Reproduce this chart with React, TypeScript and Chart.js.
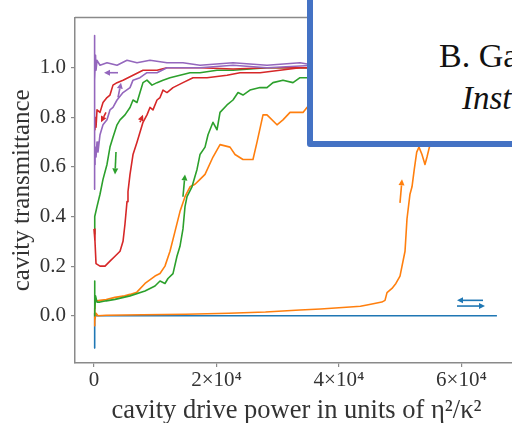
import React, { useEffect, useRef } from "react";
import { Chart, registerables } from "chart.js";
Chart.register(...registerables);

const xTicks = [0, 20000, 40000, 60000];
const xTickLabels = ["0", "2×10⁴", "4×10⁴", "6×10⁴"];
const yTicks = [0, 0.2, 0.4, 0.6, 0.8, 1.0];
const yTickLabels = ["0.0", "0.2", "0.4", "0.6", "0.8", "1.0"];

const xTitle = "cavity drive power in units of η²/κ²";
const yTitle = "cavity transmittance";

const blueSweep = [[0, -0.13], [60, -0.03], [160, 0.01], [400, 0.0], [20000, 0.0], [65800, 0.0]];

const orangeUp = [
  [0, -0.04], [80, 0.03], [160, -0.02], [330, 0.01], [650, 0.0], [2000, 0.002], [8000, 0.004],
  [15000, 0.006], [22000, 0.01], [28000, 0.015], [33640, 0.023], [37000, 0.027], [41800, 0.035],
  [43500, 0.038], [44580, 0.043], [46000, 0.05], [47000, 0.055], [47520, 0.062], [47850, 0.093],
  [48660, 0.11], [49300, 0.13], [49970, 0.16], [50790, 0.26], [51110, 0.39], [51600, 0.49],
  [51930, 0.52], [52300, 0.59], [52700, 0.66], [53070, 0.68], [53560, 0.65], [54050, 0.61],
  [54380, 0.64], [54870, 0.69], [56500, 0.76],
];
const orangeDown = [
  [0, 0.03], [160, 0.066], [490, 0.06], [980, 0.062], [2000, 0.065], [3430, 0.074], [5000, 0.08],
  [5880, 0.086], [7000, 0.095], [8330, 0.13], [9960, 0.16], [10780, 0.17], [11590, 0.2], [12410, 0.26],
  [13230, 0.34], [14040, 0.42], [14860, 0.48], [15680, 0.52], [16490, 0.53], [17310, 0.55],
  [18130, 0.57], [19430, 0.64], [20580, 0.69], [22210, 0.68], [23030, 0.65], [24330, 0.63],
  [25960, 0.63], [26620, 0.7], [27600, 0.81], [28250, 0.81], [29880, 0.77], [30860, 0.79],
  [32010, 0.82], [33150, 0.82], [34130, 0.82], [34780, 0.84], [36000, 0.86],
];

const greenUp = [
  [0, 0.0], [80, 0.14], [160, 0.02], [250, 0.08], [490, 0.055], [980, 0.055], [2000, 0.06],
  [3430, 0.066], [5880, 0.08], [8330, 0.1], [9960, 0.12], [10780, 0.14], [11590, 0.13], [12080, 0.15],
  [12900, 0.17], [13550, 0.24], [14040, 0.28], [14530, 0.35], [14860, 0.44], [15190, 0.48],
  [16000, 0.52], [16820, 0.59], [17310, 0.65], [18130, 0.68], [18620, 0.73], [19430, 0.78],
  [20090, 0.75], [20580, 0.82], [21720, 0.85], [22700, 0.87], [23520, 0.9], [24330, 0.89],
  [25470, 0.91], [27110, 0.92], [28250, 0.92], [29230, 0.94], [30860, 0.95], [32500, 0.94],
  [33640, 0.96], [34780, 0.96], [36000, 0.97],
];
const greenDown = [
  [0, 0.33], [80, 0.37], [160, 0.4], [490, 0.44], [980, 0.49], [1470, 0.55], [2120, 0.61],
  [2610, 0.68], [3100, 0.72], [3760, 0.77], [4250, 0.79], [5060, 0.81], [5880, 0.84], [6370, 0.87],
  [7020, 0.86], [7510, 0.9], [8000, 0.94], [8650, 0.95], [9470, 0.93], [10290, 0.94], [11270, 0.95],
  [12410, 0.96], [14040, 0.97], [15680, 0.98], [17310, 0.98], [20090, 0.99], [22700, 0.99],
  [28250, 1.0], [33640, 1.0], [36000, 1.0],
];

const redUp = [
  [0, 0.35], [160, 0.3], [330, 0.21], [980, 0.2], [1800, 0.2], [2610, 0.22], [3430, 0.24],
  [4250, 0.26], [4740, 0.3], [5060, 0.37], [5390, 0.46], [5550, 0.5], [5880, 0.57], [6370, 0.65],
  [7020, 0.7], [7510, 0.74], [8000, 0.78], [8650, 0.81], [9140, 0.84], [9630, 0.83], [10290, 0.87],
  [10780, 0.88], [11270, 0.91], [11920, 0.9], [12900, 0.92], [14530, 0.94], [16170, 0.96],
  [18450, 0.96], [21720, 0.97], [23840, 0.98], [27110, 0.98], [30370, 0.99], [33640, 1.0], [36000, 1.0],
];
const redDown = [
  [0, 0.75], [160, 0.8], [330, 0.76], [490, 0.83], [980, 0.82], [1470, 0.86], [2120, 0.88],
  [2610, 0.89], [3100, 0.93], [3760, 0.94], [4740, 0.95], [6370, 0.97], [8000, 0.99], [10290, 0.99],
  [11920, 1.0], [17310, 1.0], [22700, 0.995], [28250, 1.0], [33640, 1.0], [36000, 1.0],
];

const purpleUp = [
  [0, 0.61], [160, 0.68], [330, 0.64], [490, 0.7], [650, 0.66], [980, 0.73], [1470, 0.77],
  [2120, 0.79], [2610, 0.83], [3100, 0.84], [3760, 0.87], [4740, 0.9], [5880, 0.92], [6370, 0.95],
  [7510, 0.96], [8650, 0.98], [10290, 0.98], [11920, 1.0], [14530, 1.0], [17310, 1.0], [22700, 1.01],
  [28250, 1.0], [36000, 1.01],
];
const purpleDown = [
  [0, 0.51], [40, 1.13], [80, 0.6], [120, 1.08], [160, 0.95], [250, 1.05], [330, 0.99], [490, 1.03],
  [980, 1.01], [2120, 1.02], [3760, 1.01], [5390, 1.03], [7020, 1.02], [9140, 1.03], [11920, 1.02],
  [14530, 1.02], [17310, 1.01], [22700, 1.02], [28250, 1.01], [33640, 1.02], [36000, 1.01],
];

const arrowStarts = [
  [3920, 0.98], [3920, 0.88], [7510, 0.78], [1960, 0.82], [3590, 0.66], [14530, 0.48],
  [49970, 0.455], [63520, 0.062], [59280, 0.039],
];
const arrowEnds = [
  [1630, 0.98], [4410, 0.94], [8000, 0.81], [1140, 0.78], [3430, 0.57], [14860, 0.57],
  [50300, 0.55], [59280, 0.062], [63850, 0.039],
];
const arrowColors = ["#9467bd", "#9467bd", "#d62728", "#d62728", "#2ca02c", "#2ca02c", "#ff7f0e", "#1f77b4", "#1f77b4"];

const FONT = "'Liberation Serif', 'Times New Roman', serif";
const SPINE = "#8a8a8a";

const toXY = (pts: number[][]) => pts.map(([x, y]) => ({ x, y }));

const extrasPlugin = {
  id: "extras",
  afterDatasetsDraw(chart: any) {
    const { ctx, chartArea, scales } = chart;
    const xs = scales.x;
    const ys = scales.y;
    ctx.save();
    arrowStarts.forEach((s, i) => {
      const e = arrowEnds[i];
      const x1 = xs.getPixelForValue(s[0]);
      const y1 = ys.getPixelForValue(s[1]);
      const x2 = xs.getPixelForValue(e[0]);
      const y2 = ys.getPixelForValue(e[1]);
      const ang = Math.atan2(y2 - y1, x2 - x1);
      const hl = 6;
      const hw = 3;
      const bx = x2 - hl * Math.cos(ang);
      const by = y2 - hl * Math.sin(ang);
      ctx.strokeStyle = arrowColors[i];
      ctx.fillStyle = arrowColors[i];
      ctx.lineWidth = 1.6;
      ctx.beginPath();
      ctx.moveTo(x1, y1);
      ctx.lineTo(bx, by);
      ctx.stroke();
      ctx.beginPath();
      ctx.moveTo(x2, y2);
      ctx.lineTo(bx - hw * Math.sin(ang), by + hw * Math.cos(ang));
      ctx.lineTo(bx + hw * Math.sin(ang), by - hw * Math.cos(ang));
      ctx.closePath();
      ctx.fill();
    });
    ctx.strokeStyle = SPINE;
    ctx.lineWidth = 1.5;
    ctx.beginPath();
    ctx.moveTo(chartArea.left, chartArea.top);
    ctx.lineTo(chartArea.right, chartArea.top);
    ctx.lineTo(chartArea.right, chartArea.bottom);
    ctx.stroke();
    ctx.restore();
  },
};

export default function App() {
  const ref = useRef<HTMLCanvasElement | null>(null);
  useEffect(() => {
    if (!ref.current) return;
    const ds = (pts: number[][], color: string) => ({
      data: toXY(pts),
      borderColor: color,
      backgroundColor: color,
      borderWidth: 1.6,
      pointRadius: 0,
      tension: 0,
      fill: false,
      borderJoinStyle: "round" as const,
    });
    const chart = new Chart(ref.current, {
      type: "line",
      data: {
        datasets: [
          ds(purpleDown, "#9467bd"),
          ds(purpleUp, "#9467bd"),
          ds(redDown, "#d62728"),
          ds(redUp, "#d62728"),
          ds(greenDown, "#2ca02c"),
          ds(greenUp, "#2ca02c"),
          ds(orangeDown, "#ff7f0e"),
          ds(orangeUp, "#ff7f0e"),
          ds(blueSweep, "#1f77b4"),
        ],
      },
      options: {
        animation: false,
        responsive: false,
        devicePixelRatio: 1,
        layout: { padding: { top: 5, right: 2, left: 0, bottom: 0 } },
        plugins: { legend: { display: false }, tooltip: { enabled: false } },
        scales: {
          x: {
            type: "linear",
            min: -3103,
            max: 69240,
            afterBuildTicks: (s: any) => {
              s.ticks = xTicks.map((v) => ({ value: v }));
            },
            afterFit: (s: any) => {
              s.height = 60;
            },
            ticks: {
              autoSkip: false,
              maxRotation: 0,
              padding: 1,
              color: "#333",
              font: { family: FONT, size: 21 },
              callback: (_v: any, i: number) => xTickLabels[i],
            },
            grid: { display: true, drawOnChartArea: false, drawTicks: true, tickLength: 4, color: SPINE, lineWidth: 1.2 },
            border: { display: true, color: SPINE, width: 1.5 },
            title: {
              display: true,
              text: xTitle,
              color: "#333",
              padding: 0,
              font: { family: FONT, size: 26.5, lineHeight: 0.9 },
            },
          },
          y: {
            type: "linear",
            min: -0.1907,
            max: 1.2023,
            afterBuildTicks: (s: any) => {
              s.ticks = yTicks.map((v) => ({ value: v }));
            },
            afterFit: (s: any) => {
              s.width = 75;
            },
            ticks: {
              autoSkip: false,
              padding: 5,
              color: "#333",
              font: { family: FONT, size: 21 },
              callback: (_v: any, i: number) => yTickLabels[i],
            },
            grid: { display: true, drawOnChartArea: false, drawTicks: true, tickLength: 4, color: SPINE, lineWidth: 1.2 },
            border: { display: true, color: SPINE, width: 1.5 },
            title: {
              display: true,
              text: yTitle,
              color: "#333",
              padding: { top: 7, bottom: 0 },
              font: { family: FONT, size: 25 },
            },
          },
        },
      },
      plugins: [extrasPlugin],
    });
    return () => chart.destroy();
  }, []);

  return (
    <div
      style={{
        position: "fixed",
        left: 0,
        top: 0,
        width: 512,
        height: 423,
        overflow: "hidden",
        background: "#fff",
      }}
    >
      <canvas ref={ref} width={520} height={423} style={{ position: "absolute", left: 0, top: 0, width: 520, height: 423 }} />
      <div
        style={{
          position: "absolute",
          left: 307,
          top: -20,
          width: 260,
          height: 167,
          boxSizing: "border-box",
          border: "6px solid #4472c4",
          borderRadius: 3,
          background: "#fff",
        }}
      />
      <div
        style={{
          position: "absolute",
          left: 439,
          top: 38,
          fontFamily: FONT,
          fontSize: 34,
          lineHeight: "36px",
          color: "#111",
          whiteSpace: "nowrap",
        }}
      >
        B. Gadway
      </div>
      <div
        style={{
          position: "absolute",
          left: 462,
          top: 82,
          fontFamily: FONT,
          fontSize: 33,
          fontStyle: "italic",
          lineHeight: "33px",
          color: "#111",
          whiteSpace: "nowrap",
        }}
      >
        Institute
      </div>
    </div>
  );
}
